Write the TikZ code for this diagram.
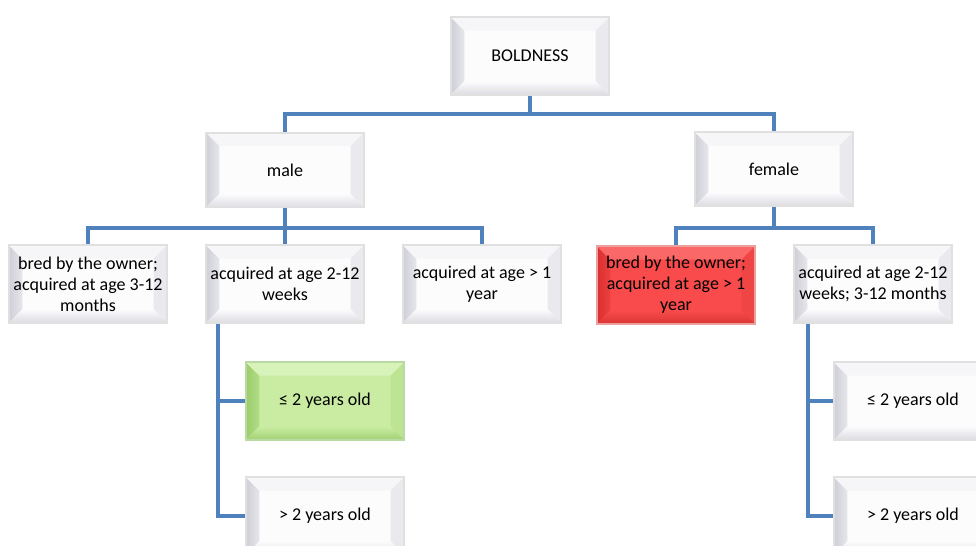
\documentclass[tikz,border=0pt]{standalone}
\usepackage{fontspec}
\setmainfont{Carlito}
\definecolor{link}{HTML}{4F81BD}
% grey box
\definecolor{gFace}{HTML}{FCFCFD}
\definecolor{gLeft}{HTML}{E6E6EC}
\definecolor{gLeftOut}{HTML}{CFCFD8}
\definecolor{gTop}{HTML}{F6F6F8}
\definecolor{gRight}{HTML}{EAEAEE}
\definecolor{gBot}{HTML}{DCDCE2}
\definecolor{gFrame}{HTML}{E0E0E0}
% green box
\definecolor{nFace}{HTML}{C9ECA2}
\definecolor{nLeft}{HTML}{B2DE86}
\definecolor{nLeftOut}{HTML}{9CCC6C}
\definecolor{nTop}{HTML}{D8F3BA}
\definecolor{nRight}{HTML}{BCE492}
\definecolor{nBot}{HTML}{A3D174}
\definecolor{nFrame}{HTML}{BBD9A3}
% red box
\definecolor{rFace}{HTML}{F94B4B}
\definecolor{rLeft}{HTML}{EE4040}
\definecolor{rLeftOut}{HTML}{DA3030}
\definecolor{rTop}{HTML}{FB6868}
\definecolor{rRight}{HTML}{F04545}
\definecolor{rBot}{HTML}{D93434}
\definecolor{rFrame}{HTML}{EBA0A0}
\begin{document}
\begin{tikzpicture}[x=0.75pt,y=-0.75pt,
  % bevelled box; #1 = colour prefix
  bevel/.style={
    rectangle, fill=#1Face, draw=#1Frame, line width=1.6pt,
    minimum width=118.5pt, minimum height=58pt, inner sep=0pt,
    align=center, font=\fontsize{13.5}{15.75}\selectfont,
    path picture={
      \coordinate (bsw) at (path picture bounding box.south west);
      \coordinate (bnw) at (path picture bounding box.north west);
      \coordinate (bne) at (path picture bounding box.north east);
      \coordinate (bse) at (path picture bounding box.south east);
      \shade[left color=#1LeftOut, right color=#1Left]
        (bsw) -- (bnw) -- ([shift={(10pt,-10pt)}]bnw) -- ([shift={(10pt,10pt)}]bsw) -- cycle;
      \fill[#1Top] (bnw) -- (bne) -- ([shift={(-10pt,-10pt)}]bne) -- ([shift={(10pt,-10pt)}]bnw) -- cycle;
      \fill[#1Right] (bne) -- (bse) -- ([shift={(-10pt,10pt)}]bse) -- ([shift={(-10pt,-10pt)}]bne) -- cycle;
      \shade[top color=#1Face, bottom color=#1Bot]
        (bsw) -- (bse) -- ([shift={(-10pt,10pt)}]bse) -- ([shift={(10pt,10pt)}]bsw) -- cycle;
    }},
  plainbox/.style={bevel=g},
  greenbox/.style={bevel=n},
  redbox/.style={bevel=r},
  conn/.style={draw=link, line width=2.4pt}
]
\fill[white] (0,0) rectangle (976,546);
\useasboundingbox (0,0) rectangle (976,546);
\clip (0,0) rectangle (976,546);

% tree nodes
\node[plainbox] (root) at (530,56) {BOLDNESS};
\node[plainbox, minimum height=56pt] (male) at (285,170) {male};
\node[plainbox, minimum height=55pt] (female) at (774,169) {female};

\node[plainbox] (c1) at (88,284) {bred by the owner;\\acquired at age 3-12\\months};
\node[plainbox] (c2) at (285,284) {acquired at age 2-12\\weeks};
\node[plainbox] (c3) at (482,284) {acquired at age > 1\\year};
\node[redbox] (f1) at (676,285) {bred by the owner;\\acquired at age > 1\\year};
\node[plainbox] (f2) at (873,284) {acquired at age 2-12\\weeks; 3-12 months};

\node[greenbox] (g1) at (325,401) {≤ 2 years old};
\node[plainbox] (g2) at (325,516) {> 2 years old};
\node[plainbox] (h1) at (913,401) {≤ 2 years old};
\node[plainbox] (h2) at (913,516) {> 2 years old};

% bus lines
\coordinate (bus0) at (0,114);
\coordinate (busm) at (0,228);
\coordinate (busf) at (0,228);
\coordinate (railm) at (218,0);
\coordinate (railf) at (808,0);

\draw[conn] (root.south) -- (root.south |- bus0) -| (male.north);
\draw[conn] (root.south |- bus0) -| (female.north);

\draw[conn] (male.south) -- (male.south |- busm) -| (c1.north);
\draw[conn] (male.south |- busm) -- (c2.north);
\draw[conn] (male.south |- busm) -| (c3.north);

\draw[conn] (female.south) -- (female.south |- busf) -| (f1.north);
\draw[conn] (female.south |- busf) -| (f2.north);

\draw[conn] (c2.south -| railm) |- (g2.west);
\draw[conn] (g1.west -| railm) -- (g1.west);
\draw[conn] (f2.south -| railf) |- (h2.west);
\draw[conn] (h1.west -| railf) -- (h1.west);
\end{tikzpicture}
\end{document}
